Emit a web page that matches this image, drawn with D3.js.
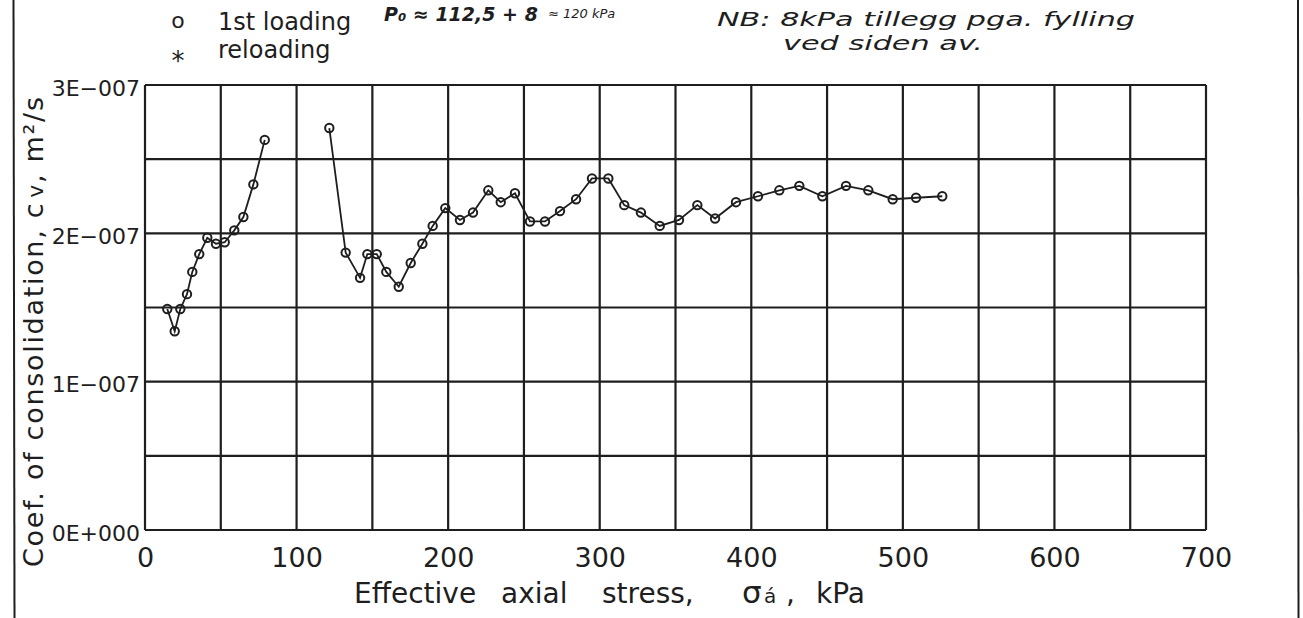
<!DOCTYPE html>
<html>
<head>
<meta charset="utf-8">
<script src="https://cdn.jsdelivr.net/npm/d3@7"></script>
<style>
  html, body { margin: 0; padding: 0; background: #fff; }
  svg { display: block; }
  text { font-family: "DejaVu Sans", sans-serif; fill: #1e1e1e; }
  .hand { font-family: "DejaVu Sans", sans-serif; font-style: italic; }
</style>
</head>
<body>
<svg id="chart" width="1303" height="618"></svg>
<script>
// Coefficient of consolidation versus effective axial stress (oedometer test)

// First loading, lower stress range (kPa)
const stressA = [14.7, 19.6, 23.3, 27.7, 31.2, 35.8, 41.1, 46.8, 52.6, 58.9, 64.9, 71.5, 79.0];
// cv for the same steps (m²/s)
const cvA = [1.49e-7, 1.34e-7, 1.49e-7, 1.59e-7, 1.74e-7, 1.86e-7, 1.97e-7, 1.93e-7, 1.94e-7,
             2.02e-7, 2.11e-7, 2.33e-7, 2.63e-7];

// First loading, continued above the preconsolidation range (kPa)
const stressB = [121.6, 132.4, 141.9, 146.7, 152.9, 159.2, 167.4, 175.3, 183.0, 189.8,
                 198.1, 207.8, 216.4, 226.5, 234.7, 244.1, 254.0, 263.9, 273.8, 284.4,
                 294.9, 305.7, 316.2, 327.2, 339.6, 352.3, 364.4, 376.1, 389.9, 404.4,
                 418.5, 431.7, 446.9, 462.5, 477.2, 493.3, 508.7, 526.0];
const cvB = [2.71e-7, 1.87e-7, 1.70e-7, 1.86e-7, 1.86e-7, 1.74e-7, 1.64e-7, 1.80e-7, 1.93e-7, 2.05e-7,
             2.17e-7, 2.09e-7, 2.14e-7, 2.29e-7, 2.21e-7, 2.27e-7, 2.08e-7, 2.08e-7, 2.15e-7, 2.23e-7,
             2.37e-7, 2.37e-7, 2.19e-7, 2.14e-7, 2.05e-7, 2.09e-7, 2.19e-7, 2.10e-7, 2.21e-7, 2.25e-7,
             2.29e-7, 2.32e-7, 2.25e-7, 2.32e-7, 2.29e-7, 2.23e-7, 2.24e-7, 2.25e-7];

// Axis ticks and labels
const xTicks = [0, 100, 200, 300, 400, 500, 600, 700];
const yTicks = [0, 1e-7, 2e-7, 3e-7];
const yTickLabels = ["0E+000", "1E\u2212007", "2E\u2212007", "3E\u2212007"];

// Legend entries
const legendSymbols = ["o", "*"];
const legendLabels = ["1st loading", "reloading"];

const ink = "#1e1e1e";
const svg = d3.select("#chart");

const x = d3.scaleLinear().domain([0, 700]).range([145, 1206]);
const y = d3.scaleLinear().domain([0, 3e-7]).range([530, 85]);

// Page frame lines at left and right
svg.append("line").attr("x1", 13.5).attr("x2", 14.5).attr("y1", 0).attr("y2", 618)
  .attr("stroke", ink).attr("stroke-width", 2);
svg.append("line").attr("x1", 1298).attr("x2", 1298.5).attr("y1", 0).attr("y2", 618)
  .attr("stroke", ink).attr("stroke-width", 2);

// Grid: every 50 kPa and every 0.5E-007
const grid = svg.append("g").attr("stroke", ink).attr("stroke-width", 2.2);
grid.selectAll("line.v").data(d3.range(0, 701, 50)).join("line")
  .attr("class", "v")
  .attr("x1", d => x(d)).attr("x2", d => x(d))
  .attr("y1", y(0)).attr("y2", y(3e-7));
grid.selectAll("line.h").data(d3.range(0, 7).map(i => i * 0.5e-7)).join("line")
  .attr("class", "h")
  .attr("x1", x(0)).attr("x2", x(700))
  .attr("y1", d => y(d)).attr("y2", d => y(d));

// X axis labels
const xAxis = svg.append("g").attr("transform", `translate(0,${y(0)})`)
  .call(d3.axisBottom(x).tickValues(xTicks).tickSize(0).tickFormat(d3.format("d")));
xAxis.select(".domain").remove();
xAxis.selectAll("text")
  .attr("y", 37).attr("dy", 0)
  .style("font-size", "27px").style("font-family", "DejaVu Sans, sans-serif")
  .attr("fill", ink);

// Y axis labels
const yAxis = svg.append("g").attr("transform", `translate(${x(0)},0)`)
  .call(d3.axisLeft(y).tickValues(yTicks).tickSize(0)
    .tickFormat((d, i) => yTickLabels[i]));
yAxis.select(".domain").remove();
yAxis.selectAll("text")
  .attr("x", -5).attr("dy", 10)
  .style("font-size", "22px").style("font-family", "DejaVu Sans, sans-serif")
  .attr("fill", ink);

// Axis titles
const xt = svg.append("text").attr("y", 603).style("font-size", "28px");
xt.append("tspan").attr("x", 354).text("Effective");
xt.append("tspan").attr("x", 501).text("axial");
xt.append("tspan").attr("x", 602).text("stress,");
xt.append("tspan").attr("x", 742).style("font-size", "31px").text("\u03C3");
xt.append("tspan").attr("x", 764).style("font-size", "20px").text("\u00E1");
xt.append("tspan").attr("x", 786).text(",");
xt.append("tspan").attr("x", 816).text("kPa");

const yt = svg.append("text")
  .attr("transform", "translate(43,332) rotate(-90)")
  .attr("text-anchor", "middle")
  .attr("textLength", 470).attr("lengthAdjust", "spacing")
  .style("font-size", "27px");
yt.append("tspan").text("Coef. of consolidation, c");
yt.append("tspan").style("font-size", "22px").attr("dx", 4).text("v");
yt.append("tspan").text(", m\u00B2/s");

// Data: line segments with open circle markers
const line = d3.line().x(d => x(d[0])).y(d => y(d[1]));
const segments = [d3.zip(stressA, cvA), d3.zip(stressB, cvB)];

const plot = svg.append("g");
plot.selectAll("path.seg").data(segments).join("path")
  .attr("class", "seg")
  .attr("d", line)
  .attr("fill", "none").attr("stroke", ink).attr("stroke-width", 1.8);

plot.selectAll("circle").data(segments.flat()).join("circle")
  .attr("cx", d => x(d[0])).attr("cy", d => y(d[1]))
  .attr("r", 4.2)
  .attr("fill", "none").attr("stroke", ink).attr("stroke-width", 2);

// Legend
const legend = svg.append("g");
legend.append("text").attr("x", 178).attr("y", 28).attr("text-anchor", "middle")
  .style("font-size", "22px").text(legendSymbols[0]);
legend.append("text").attr("x", 178).attr("y", 70).attr("text-anchor", "middle")
  .style("font-size", "26px").text(legendSymbols[1]);
legend.append("text").attr("x", 218).attr("y", 30).style("font-size", "24px").text(legendLabels[0]);
legend.append("text").attr("x", 218).attr("y", 58).style("font-size", "24px").text(legendLabels[1]);

// Handwritten notes
svg.append("text").attr("class", "hand")
  .attr("x", 384).attr("y", 21)
  .style("font-size", "19px").style("font-weight", "bold")
  .text("P\u2080 \u2248 112,5 + 8");
svg.append("text").attr("class", "hand")
  .attr("x", 548).attr("y", 18)
  .style("font-size", "13px")
  .text("\u2248 120 kPa");

svg.append("text").attr("class", "hand")
  .attr("x", 717).attr("y", 26)
  .attr("textLength", 418).attr("lengthAdjust", "spacingAndGlyphs")
  .style("font-size", "19px")
  .text("NB: 8kPa tillegg pga. fylling");
svg.append("text").attr("class", "hand")
  .attr("x", 783).attr("y", 50)
  .attr("textLength", 200).attr("lengthAdjust", "spacingAndGlyphs")
  .style("font-size", "19px")
  .text("ved siden av.");
</script>
</body>
</html>
